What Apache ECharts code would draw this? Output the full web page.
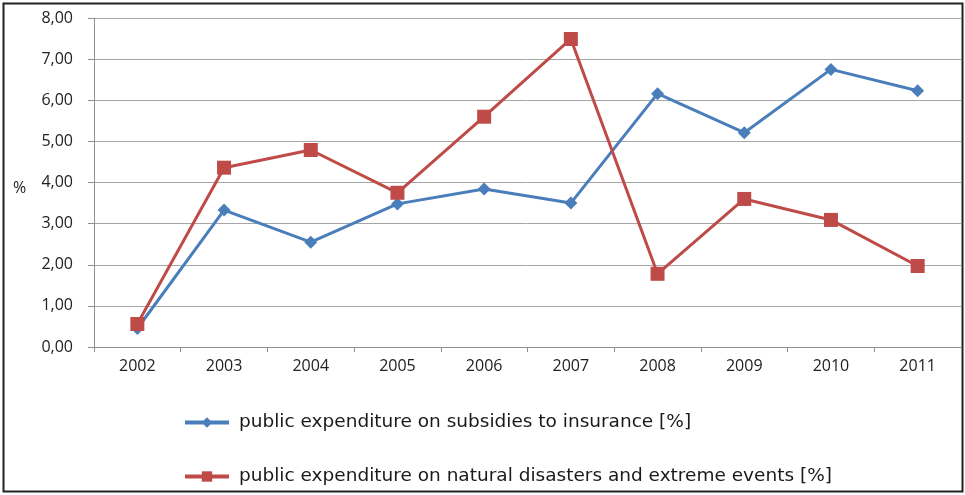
<!DOCTYPE html>
<html>
<head>
<meta charset="utf-8">
<script src="https://cdn.jsdelivr.net/npm/echarts@6/dist/echarts.min.js"></script>
<style>
  html, body { margin: 0; padding: 0; background: #fff; }
  #chart { width: 965px; height: 495px; }
</style>
</head>
<body>
<div id="chart"></div>
<script>
// Years on the category axis
const years = ['2002', '2003', '2004', '2005', '2006', '2007', '2008', '2009', '2010', '2011'];

// Share of public expenditure, in percent
const subsidiesInsurance = [0.45, 3.33, 2.55, 3.48, 3.84, 3.50, 6.16, 5.21, 6.75, 6.23];
const naturalDisasters = [0.56, 4.36, 4.79, 3.75, 5.60, 7.49, 1.78, 3.60, 3.09, 1.97];

const seriesNames = [
  'public expenditure on subsidies to insurance [%]',
  'public expenditure on natural disasters and extreme events [%]'
];

const chart = echarts.init(document.getElementById('chart'));

const fontFamily = '"Open Sans", Lato, sans-serif';
const legendFont = '"DejaVu Sans", Verdana, sans-serif';

chart.setOption({
  animation: false,
  backgroundColor: '#fff',
  graphic: [
    {
      type: 'rect',
      shape: { x: 3.5, y: 3.5, width: 959, height: 488 },
      style: { fill: 'none', stroke: '#222', lineWidth: 2 },
      silent: true
    },
    {
      type: 'text',
      left: 13,
      top: 180,
      style: { text: '%', fontSize: 16, fontFamily: fontFamily, fill: '#222' }
    }
  ],
  grid: { left: 94, right: 4, top: 18, bottom: 148, containLabel: false },
  legend: {
    orient: 'vertical',
    left: 178,
    top: 408,
    itemGap: 35,
    itemWidth: 44,
    itemHeight: 13,
    lineStyle: { width: 4 },
    textStyle: { fontSize: 18.5, fontFamily: legendFont, color: '#1a1a1a', padding: [0, 0, 0, 5] },
    data: seriesNames
  },
  xAxis: {
    type: 'category',
    data: years,
    boundaryGap: true,
    axisLine: { lineStyle: { color: '#909090', width: 1 } },
    axisTick: { show: true, length: 5, inside: false, lineStyle: { color: '#909090' } },
    axisLabel: { fontSize: 16, fontFamily: fontFamily, color: '#222', margin: 11 }
  },
  yAxis: {
    type: 'value',
    min: 0,
    max: 8,
    interval: 1,
    axisLine: { show: true, lineStyle: { color: '#909090', width: 1 } },
    axisTick: { show: true, length: 6, lineStyle: { color: '#909090' } },
    splitLine: { show: true, lineStyle: { color: '#a6a6a6', width: 1 } },
    axisLabel: {
      fontSize: 16,
      fontFamily: fontFamily,
      color: '#222',
      margin: 21,
      formatter: v => v.toFixed(2).replace('.', ',')
    }
  },
  series: [
    {
      name: seriesNames[0],
      type: 'line',
      data: subsidiesInsurance,
      symbol: 'diamond',
      symbolSize: 13,
      itemStyle: { color: '#4a7ebb' },
      lineStyle: { color: '#4a7ebb', width: 3 },
      z: 2
    },
    {
      name: seriesNames[1],
      type: 'line',
      data: naturalDisasters,
      symbol: 'rect',
      symbolSize: 14,
      itemStyle: { color: '#be4b48' },
      lineStyle: { color: '#be4b48', width: 3 },
      z: 3
    }
  ]
});
</script>
</body>
</html>
